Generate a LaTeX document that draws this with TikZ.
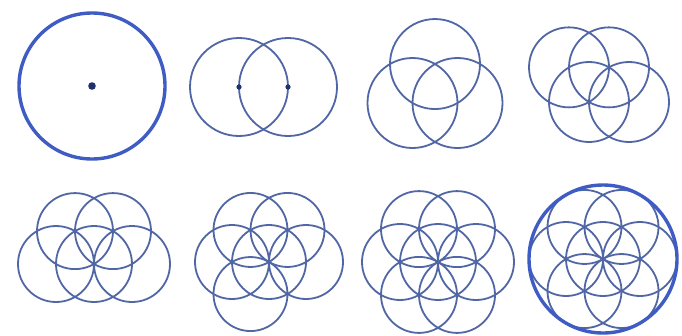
\documentclass[tikz,border=0pt]{standalone}
\definecolor{ln}{RGB}{80,102,165}
\definecolor{thk}{RGB}{62,92,196}
\definecolor{dotc}{RGB}{30,50,110}
\begin{document}
\begin{tikzpicture}[x=1pt,y=-1pt,
  ring/.style={draw=ln,line width=1.8pt},
  bigring/.style={draw=thk,line width=3.4pt},
  centredot/.style={fill=dotc}]
\useasboundingbox (0,0) rectangle (682,335);
\fill[white] (0,0) rectangle (682,335);
% panel 1
\draw[bigring] (92,86) circle[radius=73];
\fill[centredot] (92,86) circle[radius=3.8];
% panel 2
\draw[ring] (239,87) circle[radius=49];
\draw[ring] (288,87) circle[radius=49];
\fill[centredot] (239,87) circle[radius=2.6];
\fill[centredot] (288,87) circle[radius=2.6];
% panel 3
\begin{scope}[shift={(412.5,103)}]
  \foreach \a in {0,-60}{\draw[ring] (\a:45) circle[radius=45];}
  \draw[ring] (0,0) circle[radius=45];
\end{scope}
% panel 4
\begin{scope}[shift={(589,102)}]
  \draw[ring] (0,0) circle[radius=40];
  \foreach \a in {0,-60,-120}{\draw[ring] (\a:40) circle[radius=40];}
\end{scope}
% panel 5
\begin{scope}[shift={(94,264)}]
  \draw[ring] (0,0) circle[radius=38];
  \foreach \a in {0,-60,-120,180}{\draw[ring] (\a:38) circle[radius=38];}
\end{scope}
% panel 6
\begin{scope}[shift={(269,262)}]
  \draw[ring] (0,0) circle[radius=37];
  \foreach \a in {0,-60,-120,180,120}{\draw[ring] (\a:37) circle[radius=37];}
\end{scope}
% panel 7
\begin{scope}[shift={(438,262)}]
  \draw[ring] (0,0) circle[radius=38];
  \foreach \a in {0,60,...,300}{\draw[ring] (\a:38) circle[radius=38];}
\end{scope}
% panel 8
\begin{scope}[shift={(603,259)}]
  \draw[ring] (0,0) circle[radius=37];
  \foreach \a in {0,60,...,300}{\draw[ring] (\a:37) circle[radius=37];}
  \draw[bigring] (0,0) circle[radius=74];
\end{scope}
\end{tikzpicture}
\end{document}
